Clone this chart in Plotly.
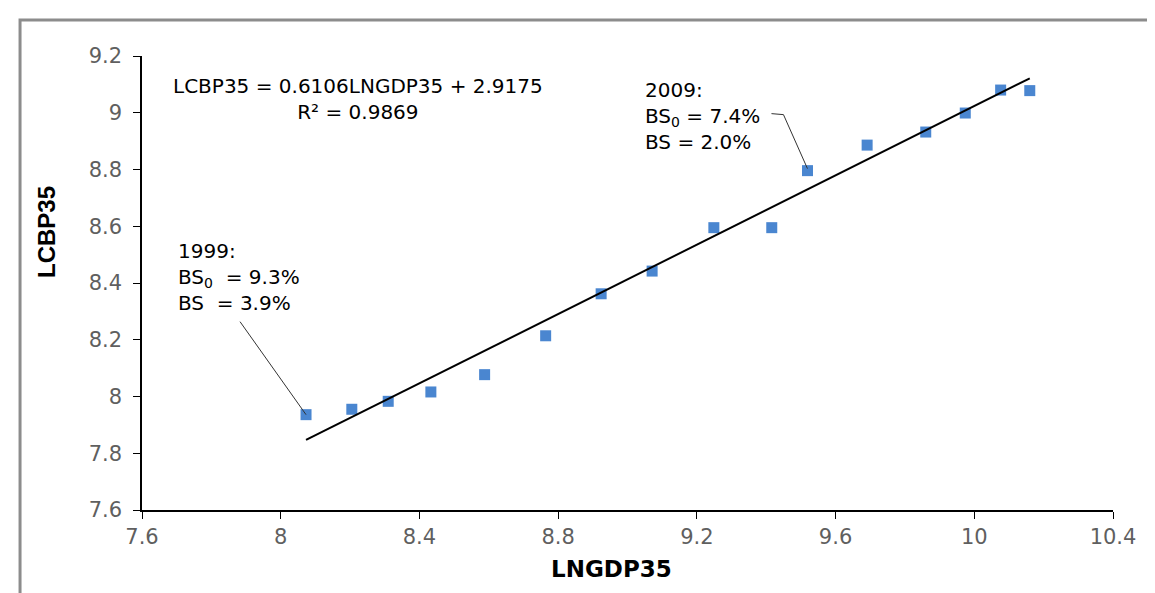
import plotly.graph_objects as go

# ---- data ----
years = list(range(1999, 2015))
lngdp35 = [8.073, 8.205, 8.310, 8.433, 8.588, 8.764, 8.924, 9.071,
           9.249, 9.416, 9.519, 9.691, 9.860, 9.974, 10.076, 10.160]
lcbp35 = [7.936, 7.955, 7.983, 8.016, 8.077, 8.214, 8.362, 8.442,
          8.595, 8.595, 8.796, 8.886, 8.932, 8.999, 9.080, 9.078]
slope, intercept, r2 = 0.6106, 2.9175, 0.9869

x_ticks = [7.6, 8.0, 8.4, 8.8, 9.2, 9.6, 10.0, 10.4]
x_ticktext = ["7.6", "8", "8.4", "8.8", "9.2", "9.6", "10", "10.4"]
y_ticks = [7.6, 7.8, 8.0, 8.2, 8.4, 8.6, 8.8, 9.0, 9.2]
y_ticktext = ["7.6", "7.8", "8", "8.2", "8.4", "8.6", "8.8", "9", "9.2"]

FONT = "DejaVu Sans, Liberation Sans, Arial, sans-serif"
FONT_NARROW = "Liberation Sans, Arial, sans-serif"

fig = go.Figure()
fig.add_trace(go.Scatter(
    x=lngdp35, y=lcbp35, mode="markers",
    marker=dict(symbol="square", size=11, color="#4A86D0"),
    showlegend=False, hoverinfo="x+y"))

x_fit = [min(lngdp35), max(lngdp35)]
y_fit = [slope * v + intercept for v in x_fit]
fig.add_trace(go.Scatter(
    x=x_fit, y=y_fit, mode="lines",
    line=dict(color="black", width=2), showlegend=False, hoverinfo="skip"))

i99 = years.index(1999)
i09 = years.index(2009)

annos = [
    dict(x=8.222, y=9.048, xref="x", yref="y",
         text=f"LCBP35 = {slope}LNGDP35 + {intercept}<br>R² = {r2}",
         showarrow=False, align="center", xanchor="center", yanchor="middle",
         font=dict(size=20, color="black", family=FONT)),
    dict(x=9.044, y=8.990, xref="x", yref="y",
         text="2009:<br>BS<sub>0</sub> = 7.4%<br>BS = 2.0%",
         showarrow=False, align="left", xanchor="left", yanchor="middle",
         font=dict(size=20, color="black", family=FONT)),
    dict(x=7.698, y=8.422, xref="x", yref="y",
         text="1999:<br>BS<sub>0</sub> \u00a0= 9.3%<br>BS \u00a0= 3.9%",
         showarrow=False, align="left", xanchor="left", yanchor="middle",
         font=dict(size=20, color="black", family=FONT)),
    # axis titles
    dict(x=-0.099, y=0.612, xref="paper", yref="paper",
         text="<b>LCBP35</b>", textangle=-90, showarrow=False,
         xanchor="center", yanchor="middle",
         font=dict(size=24, color="black", family=FONT_NARROW)),
    dict(x=0.484, y=-0.130, xref="paper", yref="paper",
         text="<b>LNGDP35</b>", showarrow=False,
         xanchor="center", yanchor="middle",
         font=dict(size=23, color="black", family=FONT)),
]

shapes = [
    # leader line for 1999
    dict(type="path", xref="x", yref="y",
         xsizemode="pixel", ysizemode="pixel",
         xanchor=lngdp35[i99], yanchor=lcbp35[i99],
         path="M -66,93 L 0,0",
         line=dict(color="#333333", width=1)),
    # leader line for 2009
    dict(type="path", xref="x", yref="y",
         xsizemode="pixel", ysizemode="pixel",
         xanchor=lngdp35[i09], yanchor=lcbp35[i09],
         path="M -36,57 L -24,56 L 0,2",
         line=dict(color="#333333", width=1)),
    # outer border
    dict(type="rect", xref="paper", yref="paper",
         x0=-0.1256, x1=1.0443, y0=-0.25, y1=1.0793,
         line=dict(color="#8C8C8C", width=3), layer="below"),
]

fig.update_layout(
    width=1155, height=593,
    margin=dict(l=134, r=50, t=48, b=91),
    paper_bgcolor="white", plot_bgcolor="white",
    font=dict(family=FONT, size=21, color="#595959"),
    annotations=annos, shapes=shapes,
    xaxis=dict(range=[7.6, 10.4], tickvals=x_ticks, ticktext=x_ticktext,
               showgrid=False, zeroline=False, showline=True,
               linecolor="black", linewidth=1.5,
               ticks="outside", ticklen=7, tickcolor="black",
               tickfont=dict(size=21, color="#5F5F5F", family=FONT)),
    yaxis=dict(range=[7.6, 9.2], tickvals=y_ticks, ticktext=y_ticktext,
               showgrid=False, zeroline=False, showline=True,
               linecolor="black", linewidth=1.5,
               ticks="outside", ticklen=7, tickcolor="black",
               ticklabelstandoff=7,
               tickfont=dict(size=21, color="#5F5F5F", family=FONT)),
)

fig.write_html("out.html")
